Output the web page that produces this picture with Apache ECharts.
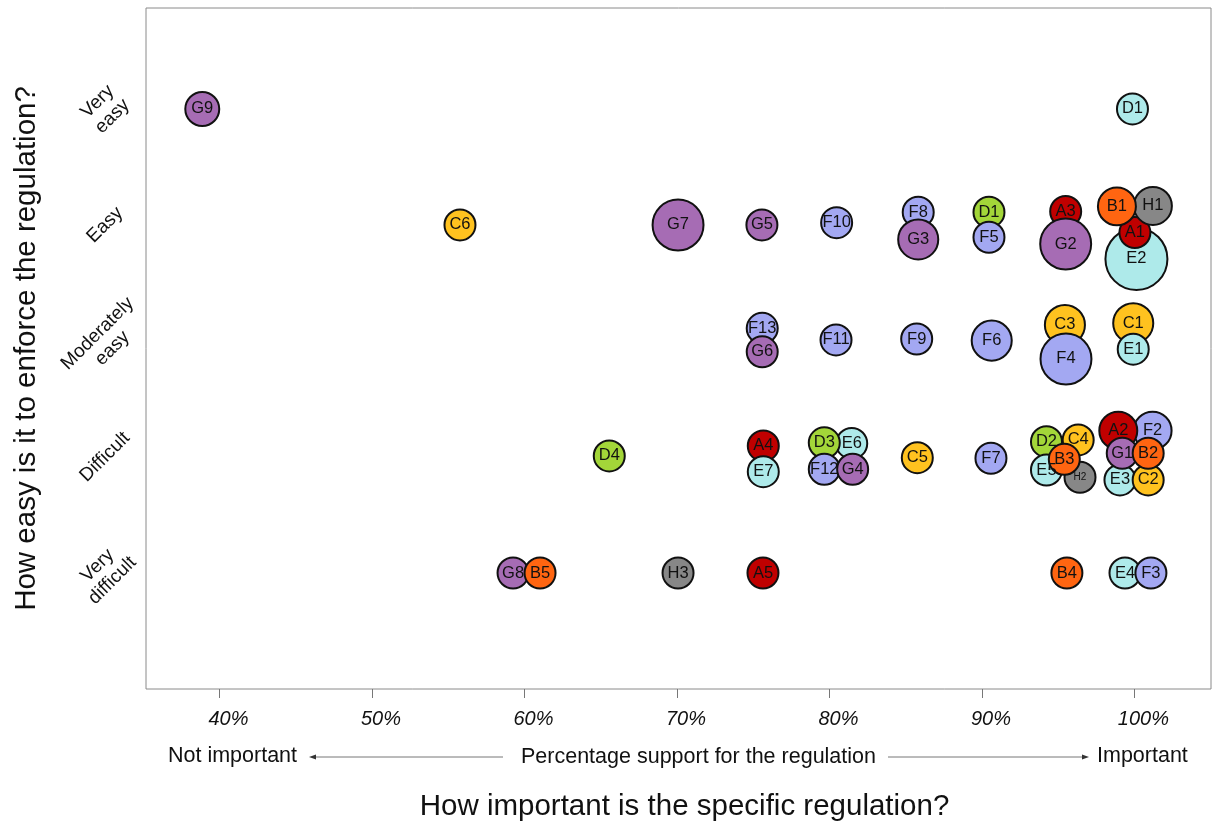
<!DOCTYPE html>
<html>
<head>
<meta charset="utf-8">
<script src="https://cdn.jsdelivr.net/npm/echarts@6/dist/echarts.min.js"></script>
<style>
html,body{margin:0;padding:0;background:#fff;}
#chart{width:1213px;height:826px;}
</style>
</head>
<body>
<div id="chart"></div>
<script>
// ---- data ----
const labels  = ['G9','D1',
  'C6','G7','G5','F10','F8','G3','D1','F5','A3','G2','E2','A1','H1','B1',
  'F13','G6','F11','F9','F6','C3','F4','C1','E1',
  'D4','A4','E7','E6','D3','F12','G4','C5','F7','D2','C4','E5','H2','B3','F2','A2','E3','C2','G1','B2',
  'G8','B5','H3','A5','B4','E4','F3'];
const groups  = ['G','E',
  'C','G','G','F','F','G','D','F','A','G','E','A','H','B',
  'F','G','F','F','F','C','F','C','E',
  'D','A','E','E','D','F','G','C','F','D','C','E','H','B','F','A','E','C','G','B',
  'G','B','H','A','B','E','F'];
// percentage support (importance)
const support = [38.87,99.87,
  55.77,70.07,75.57,80.47,85.82,85.82,90.46,90.46,95.49,95.49,100.13,100.03,101.21,98.85,
  75.59,75.59,80.43,85.72,90.64,95.44,95.51,99.92,99.92,
  65.56,75.66,75.66,81.46,79.66,79.66,81.52,85.76,90.59,94.23,96.31,94.23,96.43,95.40,101.19,98.94,99.05,100.90,99.20,100.90,
  59.25,61.02,70.07,75.64,95.57,99.38,101.08];
// ease of enforcement (1 = very difficult ... 5 = very easy), with visual offsets
const ease = [5,5,
  4,4,4,4.02,4.11,3.875,4.11,3.894,4.116,3.836,3.707,3.934,4.164,4.16,
  3.109,2.906,3.009,3.017,3.003,3.138,2.845,3.153,2.929,
  2.009,2.095,1.873,2.117,2.122,1.894,1.894,1.994,1.989,2.132,2.147,1.888,1.825,1.980,2.227,2.227,1.802,1.802,2.032,2.032,
  1,1,1,1,1,1,1];
// relative bubble weight
const weight = [1.2,1,
  1,2.7,1,1,1,1.67,1,1,1,2.7,4,1,1.5,1.5,
  1,1,1,1,1.67,1.67,2.7,1.67,1,
  1,1,1,1,1,1,1,1,1,1,1,1,1,1,1.5,1.5,1,1,1,1,
  1,1,1,1,1,1,1];
const xTicks = [40,50,60,70,80,90,100];
const yTicks = [1,2,3,4,5];
const yTickLabels = ['Very\ndifficult','Difficult','Moderately\neasy','Easy','Very\neasy'];

// ---- styles ----
const groupColors = {A:'#c00000',B:'#ff6511',C:'#ffc21f',D:'#a3d639',E:'#aeeaea',F:'#a3a8f2',G:'#a66cb4',H:'#878787'};
const FONT = 'Liberation Sans, Arial, sans-serif';

const data = labels.map((l,i)=>{
  const item = {name:l, value:[support[i], ease[i], weight[i]], itemStyle:{color:groupColors[groups[i]]}};
  if (l === 'H2') item.label = {fontSize:10};
  return item;
});

const chart = echarts.init(document.getElementById('chart'));
chart.setOption({
  animation:false,
  backgroundColor:'#fff',
  grid:{left:146, right:2, top:8, bottom:137, show:true, borderColor:'#8a8a8a', borderWidth:1, containLabel:false, outerBoundsMode:'none'},
  xAxis:{
    type:'value', min:35.18, max:105.02,
    splitLine:{show:false},
    axisLine:{show:false},
    axisTick:{show:true, customValues:xTicks, length:9, lineStyle:{color:'#777'}},
    axisLabel:{customValues:xTicks, formatter:v=>v+'%', fontStyle:'italic', fontSize:20, color:'#111', fontFamily:FONT, margin:20, padding:[0,0,0,18]},
    name:'How important is the specific regulation?', nameLocation:'middle', nameGap:103, nameMoveOverlap:false,
    nameTextStyle:{fontSize:29.5, color:'#111', fontFamily:FONT, padding:[0,0,0,12]}
  },
  yAxis:{
    type:'value', min:0, max:5.87,
    splitLine:{show:false},
    axisLine:{show:false},
    axisTick:{show:false},
    axisLabel:{customValues:yTicks, formatter:v=>yTickLabels[yTicks.indexOf(v)], rotate:45, fontSize:19, lineHeight:21, align:'center', verticalAlign:'middle', color:'#111', fontFamily:FONT, margin:41},
    name:'How easy is it to enforce the regulation?', nameLocation:'middle', nameGap:104, nameMoveOverlap:false,
    nameTextStyle:{fontSize:29.5, color:'#111', fontFamily:FONT}
  },
  series:[{
    type:'scatter',
    data:data,
    symbolSize:v=>31*Math.sqrt(v[2]),
    itemStyle:{borderColor:'#111', borderWidth:2, opacity:1},
    label:{show:true, position:'inside', formatter:p=>p.name, fontSize:16.5, color:'#111', fontFamily:FONT},
    emphasis:{disabled:true}
  }],
  graphic:[
    {type:'text', left:168, top:745, style:{text:'Not important', fontSize:21.5, fill:'#111', fontFamily:FONT}},
    {type:'text', left:521, top:746, style:{text:'Percentage support for the regulation', fontSize:21.5, fill:'#111', fontFamily:FONT}},
    {type:'text', left:1097, top:745, style:{text:'Important', fontSize:21.5, fill:'#111', fontFamily:FONT}},
    {type:'line', shape:{x1:314, y1:757, x2:503, y2:757}, style:{stroke:'#777', lineWidth:1}},
    {type:'polygon', shape:{points:[[309,757],[316,754.5],[316,759.5]]}, style:{fill:'#333'}},
    {type:'line', shape:{x1:888, y1:757, x2:1084, y2:757}, style:{stroke:'#777', lineWidth:1}},
    {type:'polygon', shape:{points:[[1089,757],[1082,754.5],[1082,759.5]]}, style:{fill:'#333'}}
  ]
});
</script>
</body>
</html>
